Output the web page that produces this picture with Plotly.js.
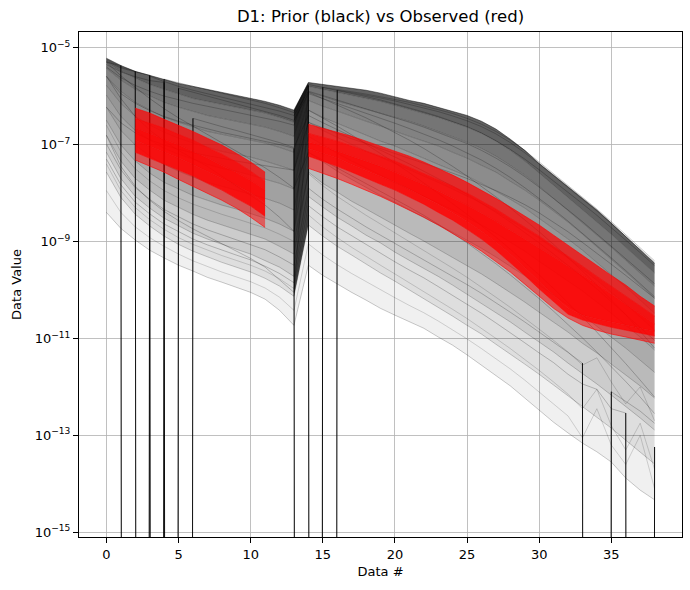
<!DOCTYPE html>
<html>
<head>
<meta charset="utf-8">
<script src="https://cdn.plot.ly/plotly-3.0.1.min.js"></script>
<style>
  html, body { margin: 0; padding: 0; background: #fff; }
  #chart { width: 690px; height: 590px; }
</style>
</head>
<body>
<div id="chart"></div>
<script>
// Data # (sample index) shared by every curve
const dataIndex = [0,1,2,3,4,5,6,7,8,9,10,11,12,13,14,15,16,17,18,19,20,21,22,23,24,25,26,27,28,29,30,31,32,33,34,35,36,37,38];

// Values are stored as log10(data value); Z marks a sample that is exactly zero
const Z = -Infinity;

// Prior realisations, ordered from the upper edge of the ensemble to the lower edge
const prior0  = [-5.22,-5.37,-5.49,-5.57,-5.65,-5.74,-5.80,-5.86,-5.92,-5.98,-6.05,-6.11,-6.19,-6.29,-5.72,-5.76,-5.80,-5.84,-5.88,-5.94,-6.02,-6.09,-6.15,-6.23,-6.31,-6.40,-6.52,-6.68,-6.89,-7.12,-7.39,-7.63,-7.86,-8.11,-8.35,-8.62,-8.89,-9.18,-9.45];
const prior1  = [-5.30,-5.49,-5.63,-5.76,-5.86,-5.96,-6.05,-6.11,-6.17,-6.23,-6.29,-6.35,-6.44,-6.54,-5.80,-5.86,-5.92,-5.98,-6.05,-6.11,-6.19,-6.27,-6.35,-6.44,-6.54,-6.64,-6.77,-6.93,-7.12,-7.34,-7.59,-7.84,-8.09,-8.33,-8.58,-8.85,-9.12,-9.39,-9.65];
const prior2  = [-5.43,-5.67,-5.86,-6.00,-6.13,-6.23,-6.31,-6.40,-6.46,-6.52,-6.58,-6.64,-6.73,-6.83,-5.92,-6.02,-6.11,-6.19,-6.27,-6.35,-6.44,-6.52,-6.62,-6.73,-6.83,-6.95,-7.08,-7.24,-7.43,-7.63,-7.86,-8.11,-8.35,-8.60,-8.85,-9.12,-9.39,-9.65,-9.92];
const prior3  = [-5.59,-5.90,-6.13,-6.29,-6.44,-6.54,-6.64,-6.73,-6.79,-6.85,-6.91,-6.97,-7.06,-7.16,-6.09,-6.21,-6.31,-6.42,-6.52,-6.62,-6.73,-6.83,-6.93,-7.03,-7.16,-7.28,-7.43,-7.57,-7.76,-7.94,-8.15,-8.38,-8.60,-8.85,-9.10,-9.37,-9.63,-9.90,-10.17];
const prior4  = [-5.78,-6.15,-6.42,-6.60,-6.75,-6.87,-6.97,-7.06,-7.14,-7.20,-7.26,-7.34,-7.43,-7.53,-6.29,-6.44,-6.56,-6.68,-6.81,-6.93,-7.03,-7.16,-7.28,-7.41,-7.53,-7.65,-7.80,-7.96,-8.13,-8.31,-8.52,-8.73,-8.95,-9.18,-9.43,-9.67,-9.94,-10.21,-10.48];
const prior5  = [-5.98,-6.42,-6.71,-6.91,-7.08,-7.20,-7.30,-7.41,-7.49,-7.55,-7.63,-7.72,-7.80,-7.92,-6.54,-6.71,-6.85,-6.99,-7.14,-7.26,-7.39,-7.51,-7.65,-7.78,-7.92,-8.07,-8.21,-8.38,-8.56,-8.75,-8.93,-9.14,-9.34,-9.57,-9.80,-10.05,-10.29,-10.56,-10.83];
const prior6  = [-6.23,-6.71,-7.01,-7.24,-7.41,-7.55,-7.67,-7.78,-7.86,-7.94,-8.02,-8.11,-8.21,-8.35,-6.83,-7.01,-7.18,-7.34,-7.49,-7.63,-7.78,-7.92,-8.07,-8.21,-8.35,-8.50,-8.66,-8.83,-9.01,-9.20,-9.41,-9.61,-9.82,-10.02,-10.25,-10.48,-10.73,-10.97,-11.24];
const prior7  = [-6.50,-7.01,-7.34,-7.59,-7.78,-7.92,-8.05,-8.15,-8.25,-8.33,-8.42,-8.52,-8.64,-8.79,-7.16,-7.36,-7.55,-7.72,-7.88,-8.05,-8.19,-8.35,-8.50,-8.66,-8.81,-8.97,-9.14,-9.32,-9.51,-9.70,-9.90,-10.11,-10.31,-10.52,-10.75,-10.97,-11.20,-11.45,-11.70];
const prior8  = [-6.81,-7.34,-7.70,-7.94,-8.15,-8.29,-8.44,-8.56,-8.66,-8.75,-8.85,-8.95,-9.10,-9.26,-7.57,-7.80,-7.98,-8.17,-8.33,-8.50,-8.66,-8.83,-8.99,-9.16,-9.32,-9.49,-9.67,-9.86,-10.05,-10.25,-10.46,-10.66,-10.87,-11.10,-11.30,-11.53,-11.76,-11.98,-12.23];
const prior9  = [-7.16,-7.70,-8.07,-8.31,-8.52,-8.68,-8.83,-8.95,-9.06,-9.16,-9.26,-9.39,-9.53,-9.72,-8.07,-8.29,-8.50,-8.68,-8.87,-9.03,-9.22,-9.39,-9.55,-9.72,-9.90,-10.09,-10.27,-10.46,-10.66,-10.87,-11.08,-11.28,-11.51,-11.72,-11.94,-12.17,-12.40,-12.64,-12.89];
const prior10 = [-7.57,-8.09,-8.44,-8.68,-8.89,-9.06,-9.20,-9.32,-9.43,-9.53,-9.63,-9.76,-9.92,-10.13,-8.66,-8.89,-9.10,-9.28,-9.47,-9.65,-9.82,-10.00,-10.17,-10.35,-10.54,-10.73,-10.91,-11.12,-11.32,-11.53,-11.74,-11.96,-12.19,-12.40,-12.62,-12.85,-13.10,-13.34,-13.59];
const prior11 = [-8.40,-8.73,-8.97,-9.18,-9.34,-9.49,-9.61,-9.74,-9.84,-9.94,-10.05,-10.19,-10.42,-10.73,-9.49,-9.70,-9.88,-10.05,-10.21,-10.38,-10.52,-10.66,-10.79,-10.97,-11.14,-11.34,-11.55,-11.76,-11.98,-12.23,-12.48,-12.73,-12.95,-13.16,-13.34,-13.55,-13.88,-14.13,-14.33];

// Prior realisations that contain a zero sample
const priorZeroA = [-5.30,-5.37,Z,-5.59,-5.70,-5.80,-5.88,-5.95,-6.02,-6.09,-6.16,-6.23,-6.31,-6.40,-5.90,-5.99,-6.08,-6.17,-6.26,-6.35,-6.44,-6.54,-6.64,-6.75,-6.86,-6.98,-7.12,-7.28,-7.46,-7.66,-7.88,-8.11,-8.35,-8.59,-8.84,-9.09,-9.35,-9.61,-9.87];
const priorZeroB = [-5.25,-5.40,-5.49,Z,-5.65,-5.73,-5.80,-5.87,-5.94,-6.01,-6.08,-6.15,-6.24,-6.34,-5.76,-5.82,-5.88,-5.94,-6.01,-6.08,-6.16,-6.24,-6.33,-6.42,-6.52,-6.63,-6.76,-6.92,-7.10,-7.30,-7.52,-7.75,-7.98,-8.22,-8.46,-8.71,-8.97,-9.23,-9.50];
const priorZeroC = [-5.28,-5.42,-5.50,-5.57,Z,-5.84,-5.92,-6.00,-6.08,-6.15,-6.23,-6.31,-6.40,-6.50,-5.95,-6.05,-6.15,-6.25,-6.35,-6.45,-6.56,-6.67,-6.78,-6.90,-7.03,-7.17,-7.32,-7.49,-7.68,-7.89,-8.11,-8.34,-8.58,-8.83,-9.08,-9.34,-9.60,-9.87,-10.14];
const priorZeroD = [-5.35,-5.50,-5.60,-5.68,-5.72,Z,-6.46,-6.55,-6.63,-6.71,-6.79,-6.87,-6.96,-7.06,-6.40,-6.55,-6.69,-6.83,-6.97,-7.11,-7.25,-7.40,-7.55,-7.70,-7.86,-8.03,-8.21,-8.40,-8.60,-8.81,-9.03,-9.26,-9.49,-9.73,-9.98,-10.24,-10.50,-10.77,-11.04];
const priorZeroE = [-5.60,-5.95,-6.15,-6.30,-6.42,-6.52,-6.60,-6.68,-6.75,-6.81,-6.87,-6.93,-7.00,-7.08,Z,-5.82,-5.86,-5.91,-5.96,-6.01,-6.07,-6.13,-6.20,-6.28,-6.36,-6.46,-6.58,-6.73,-6.91,-7.12,-7.36,-7.60,-7.84,-8.08,-8.33,-8.59,-8.86,-9.13,-9.40];
const priorZeroF = [-5.40,-5.62,-5.78,-5.90,-6.00,-6.08,-6.15,-6.21,-6.27,-6.33,-6.39,-6.45,-6.52,-6.60,-5.78,Z,-5.88,-5.93,-5.98,-6.04,-6.10,-6.17,-6.24,-6.32,-6.41,-6.51,-6.63,-6.78,-6.96,-7.17,-7.40,-7.64,-7.88,-8.12,-8.37,-8.63,-8.89,-9.16,-9.43];
const priorZeroG = [-6.99,-7.52,-7.89,-8.13,-8.34,-8.49,-8.64,-8.76,-8.86,-8.96,-9.06,-9.17,-9.32,-9.49,-7.90,-8.13,-8.33,-8.52,-8.70,-8.87,-9.04,-9.21,-9.37,-9.54,-9.71,-9.89,-10.07,-10.26,-10.46,-10.66,-10.87,-11.07,-11.29,-11.51,Z,-12.10,-12.30,-12.50,-12.75];
const priorZeroH = [-7.30,-7.83,-8.19,-8.43,-8.64,-8.80,-8.95,-9.07,-9.18,-9.28,-9.38,-9.51,-9.66,-9.85,-8.26,-8.49,-8.70,-8.88,-9.07,-9.24,-9.42,-9.59,-9.75,-9.93,-10.11,-10.30,-10.48,-10.68,-10.88,-11.09,-11.30,-11.50,-11.74,-11.94,-12.05,-12.45,-12.54,Z,-13.24];

// Faint prior realisations with a noisy tail
const priorNoisyA = [-7.95,-8.40,-8.70,-8.92,-9.10,-9.26,-9.40,-9.52,-9.63,-9.73,-9.83,-9.96,-10.15,-10.42,-9.05,-9.28,-9.48,-9.66,-9.83,-10.00,-10.16,-10.32,-10.47,-10.64,-10.82,-11.01,-11.21,-11.42,-11.63,-11.86,-12.10,-12.35,-12.60,-13.05,-12.45,-13.20,-13.60,-13.00,-14.10];
const priorNoisyB = [-7.40,-7.95,-8.30,-8.55,-8.75,-8.92,-9.06,-9.18,-9.29,-9.39,-9.49,-9.61,-9.77,-9.97,-8.45,-8.70,-8.92,-9.12,-9.31,-9.49,-9.67,-9.85,-10.03,-10.21,-10.40,-10.59,-10.79,-11.00,-11.21,-11.43,-11.66,-11.90,-12.15,-12.45,-12.05,-12.80,-13.30,-12.75,-13.70];
const priorNoisyC = [-6.60,-7.15,-7.50,-7.75,-7.95,-8.10,-8.23,-8.34,-8.44,-8.53,-8.62,-8.72,-8.85,-9.00,-7.60,-7.85,-8.07,-8.27,-8.46,-8.64,-8.82,-9.00,-9.18,-9.36,-9.55,-9.74,-9.94,-10.15,-10.36,-10.58,-10.81,-11.04,-11.28,-11.55,-11.40,-11.90,-12.35,-12.00,-12.70];

// Prior realisations that cut across the ensemble
const priorCrossA = [-5.59,-6.05,-6.42,-6.70,-6.93,-7.12,-7.29,-7.45,-7.65,-7.85,-8.05,-8.25,-8.50,-8.79,-5.92,-6.05,-6.18,-6.31,-6.45,-6.60,-6.75,-6.91,-7.08,-7.26,-7.45,-7.65,-7.86,-8.08,-8.31,-8.55,-8.80,-9.06,-9.33,-9.61,-9.90,-10.20,-10.51,-10.85,-11.20];
const priorCrossB = [-6.23,-6.55,-6.76,-6.90,-7.01,-7.10,-7.17,-7.23,-7.29,-7.34,-7.39,-7.44,-7.48,-7.53,-6.54,-6.66,-6.77,-6.88,-6.98,-7.08,-7.18,-7.28,-7.38,-7.48,-7.59,-7.70,-7.82,-7.95,-8.09,-8.24,-8.41,-8.60,-8.80,-9.02,-9.24,-9.47,-9.70,-9.94,-10.17];
const priorCrossC = [-5.30,-5.58,-5.82,-6.05,-6.26,-6.45,-6.62,-6.79,-6.96,-7.13,-7.30,-7.48,-7.68,-7.90,-7.16,-7.32,-7.48,-7.64,-7.80,-7.96,-8.12,-8.29,-8.46,-8.64,-8.83,-9.03,-9.24,-9.46,-9.69,-9.93,-10.18,-10.44,-10.71,-10.99,-11.28,-11.58,-11.89,-12.21,-12.55];
const priorCrossD = [-6.81,-7.45,-7.86,-8.15,-8.38,-8.57,-8.74,-8.89,-9.04,-9.19,-9.35,-9.53,-9.78,-10.05,-6.29,-6.45,-6.62,-6.80,-6.99,-7.18,-7.38,-7.58,-7.79,-8.00,-8.22,-8.44,-8.67,-8.91,-9.16,-9.42,-9.69,-9.97,-10.26,-10.56,-10.87,-11.19,-11.52,-11.86,-12.21];

// Observed data (null where no observation exists), upper edge to lower edge
const observed0 = [null,null,-6.25,-6.35,-6.48,-6.60,-6.73,-6.87,-7.01,-7.18,-7.36,-7.57,null,null,-6.58,-6.66,-6.75,-6.83,-6.93,-7.03,-7.14,-7.24,-7.36,-7.49,-7.63,-7.78,-7.94,-8.11,-8.29,-8.48,-8.66,-8.87,-9.08,-9.28,-9.49,-9.70,-9.90,-10.13,-10.33];
const observed1 = [null,null,-6.46,-6.56,-6.66,-6.79,-6.91,-7.06,-7.20,-7.36,-7.55,-7.76,null,null,-6.77,-6.85,-6.93,-7.03,-7.14,-7.24,-7.34,-7.47,-7.59,-7.72,-7.86,-8.00,-8.17,-8.33,-8.52,-8.71,-8.89,-9.10,-9.30,-9.51,-9.72,-9.92,-10.13,-10.33,-10.54];
const observed2 = [null,null,-6.66,-6.77,-6.89,-7.01,-7.14,-7.28,-7.43,-7.57,-7.74,-7.94,null,null,-6.95,-7.03,-7.14,-7.24,-7.34,-7.45,-7.57,-7.70,-7.82,-7.96,-8.11,-8.25,-8.42,-8.58,-8.77,-8.95,-9.14,-9.32,-9.51,-9.70,-9.88,-10.09,-10.29,-10.50,-10.70];
const observed3 = [null,null,-6.91,-7.03,-7.16,-7.28,-7.41,-7.55,-7.70,-7.84,-8.00,-8.21,null,null,-7.08,-7.18,-7.28,-7.41,-7.53,-7.65,-7.78,-7.92,-8.07,-8.23,-8.40,-8.58,-8.79,-9.01,-9.26,-9.53,-9.82,-10.11,-10.38,-10.52,-10.60,-10.66,-10.73,-10.79,-10.85];
const observed4 = [null,null,-7.16,-7.28,-7.41,-7.53,-7.65,-7.80,-7.94,-8.11,-8.27,-8.48,null,null,-7.24,-7.34,-7.45,-7.57,-7.70,-7.82,-7.94,-8.09,-8.23,-8.40,-8.56,-8.75,-8.95,-9.18,-9.43,-9.70,-9.98,-10.25,-10.50,-10.62,-10.70,-10.77,-10.83,-10.89,-10.95];
const observed5 = [null,null,-7.32,-7.45,-7.57,-7.72,-7.86,-8.00,-8.15,-8.31,-8.50,-8.71,null,null,-7.49,-7.59,-7.70,-7.82,-7.94,-8.07,-8.21,-8.35,-8.50,-8.66,-8.83,-9.01,-9.20,-9.41,-9.63,-9.88,-10.13,-10.38,-10.58,-10.73,-10.83,-10.91,-10.97,-11.04,-11.10];

// Axis ticks
const xTickVals = [0, 5, 10, 15, 20, 25, 30, 35];
const yTickVals = [1e-15, 1e-13, 1e-11, 1e-9, 1e-7, 1e-5];
const yTickText = ['10<sup>−15</sup>', '10<sup>−13</sup>', '10<sup>−11</sup>', '10<sup>−9</sup>', '10<sup>−7</sup>', '10<sup>−5</sup>'];

// ---------------------------------------------------------------------------
// log10 -> value; a zero sample is pushed far below the axis, as a log scale clips it
const CLIP = 1e-300;
const toValues = arr => arr.map(e => (e === null ? null : Math.pow(10, e)));
const clipPositive = arr => arr.map(v => (v === null ? null : (v > 0 ? v : CLIP)));
const plotValues = arr => clipPositive(toValues(arr));

const traces = [];
const base = { type: 'scatter', mode: 'lines', hoverinfo: 'skip', showlegend: false };

// Prior ensemble: shaded bands between neighbouring realisations
const priorLayers = [prior0, prior1, prior2, prior3, prior4, prior5, prior6, prior7, prior8, prior9, prior10, prior11];
const bandShade = [0.62, 0.54, 0.49, 0.45, 0.41, 0.37, 0.33, 0.27, 0.2, 0.13, 0.06];
priorLayers.forEach((layer, i) => {
  const t = Object.assign({}, base, {
    x: dataIndex, y: plotValues(layer),
    line: { color: i === 0 ? 'rgba(0,0,0,0.65)' : 'rgba(0,0,0,0.3)', width: 0.7 }
  });
  if (i > 0) { t.fill = 'tonexty'; t.fillcolor = 'rgba(0,0,0,' + bandShade[i - 1] + ')'; }
  traces.push(t);
});

// The jump from Data #13 to #14, where all realisations pile up
const jumpA = 13, jumpB = 14;
const topV = plotValues(prior0), lowV = plotValues(prior10);
traces.push(Object.assign({}, base, {
  x: [dataIndex[jumpA], dataIndex[jumpB], dataIndex[jumpB], dataIndex[jumpA], dataIndex[jumpA]],
  y: [topV[jumpA], topV[jumpB], lowV[jumpB], lowV[jumpA], topV[jumpA]],
  fill: 'toself', fillcolor: 'rgba(0,0,0,0.7)', line: { width: 0 }
}));

// Individual prior realisations
const zeroCurves = [priorZeroA, priorZeroB, priorZeroC, priorZeroD, priorZeroE, priorZeroF, priorZeroG, priorZeroH];
const noisyCurves = [priorNoisyA, priorNoisyB, priorNoisyC];
const crossCurves = [priorCrossA, priorCrossB, priorCrossC, priorCrossD];
noisyCurves.forEach(c => traces.push(Object.assign({}, base, {
  x: dataIndex, y: plotValues(c), line: { color: 'rgba(0,0,0,0.22)', width: 0.7 }
})));
crossCurves.concat(zeroCurves).forEach(c => traces.push(Object.assign({}, base, {
  x: dataIndex, y: plotValues(c), line: { color: 'rgba(0,0,0,0.32)', width: 0.7 }
})));
// Drop-outs to zero show as near-vertical strokes next to the zero sample
zeroCurves.forEach(c => {
  const k = c.indexOf(Z);
  const lo = Math.max(0, k - 1), hi = Math.min(c.length - 1, k + 1);
  const yv = plotValues(c);
  traces.push(Object.assign({}, base, {
    x: dataIndex.slice(lo, hi + 1), y: yv.slice(lo, hi + 1),
    line: { color: 'rgba(0,0,0,0.92)', width: 1 }
  }));
});

// Observed data: split each curve into its contiguous runs
const observed = [observed0, observed1, observed2, observed3, observed4, observed5];
function runs(arr) {
  const out = []; let cur = null;
  arr.forEach((v, i) => {
    if (v === null) { cur = null; return; }
    if (!cur) { cur = []; out.push(cur); }
    cur.push(i);
  });
  return out;
}
const redShade = [0.72, 0.88, 0.92, 0.9, 0.5];
const segments = runs(observed0);
segments.forEach(idx => {
  observed.forEach((curve, j) => {
    const vals = plotValues(curve);
    const t = Object.assign({}, base, {
      x: idx.map(i => dataIndex[i]), y: idx.map(i => vals[i]),
      line: { color: 'rgba(255,0,0,0.75)', width: 0.8 }
    });
    if (j > 0) { t.fill = 'tonexty'; t.fillcolor = 'rgba(255,0,0,' + redShade[j - 1] + ')'; }
    traces.push(t);
  });
});

const axisCommon = {
  showline: true, mirror: true, linecolor: '#000', linewidth: 1,
  ticks: 'outside', ticklen: 5, tickwidth: 1, tickcolor: '#000',
  showgrid: true, gridcolor: '#b0b0b0', gridwidth: 0.8, zeroline: false,
  tickfont: { size: 13, color: '#000' }
};

const layout = {
  width: 690, height: 590,
  margin: { l: 79, r: 8, t: 32, b: 53 },
  paper_bgcolor: '#ffffff', plot_bgcolor: '#ffffff',
  font: { family: 'DejaVu Sans, sans-serif', color: '#000', size: 13 },
  title: {
    text: 'D1: Prior (black) vs Observed (red)',
    font: { size: 16.5, color: '#000' },
    x: 0.5, xref: 'paper', y: 0.973, yref: 'container', yanchor: 'middle'
  },
  xaxis: Object.assign({}, axisCommon, {
    range: [-1.9, 39.9], tickmode: 'array', tickvals: xTickVals,
    title: { text: 'Data #', font: { size: 13 }, standoff: 6 }
  }),
  yaxis: Object.assign({}, axisCommon, {
    type: 'log', range: [-15.097, -4.678], tickmode: 'array',
    tickvals: yTickVals, ticktext: yTickText,
    title: { text: 'Data Value', font: { size: 13 }, standoff: 10 }
  })
};

Plotly.newPlot('chart', traces, layout, { staticPlot: true, displayModeBar: false });
</script>
</body>
</html>
